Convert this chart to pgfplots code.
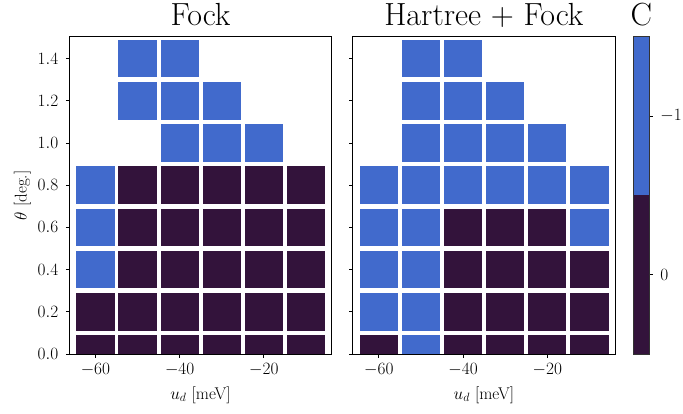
\documentclass[border=0pt]{standalone}
\usepackage{pgfplots}
\pgfplotsset{compat=1.18}

\definecolor{cblue}{RGB}{65,106,204}
\definecolor{cdark}{RGB}{51,19,59}

% one cell of the phase map (drawn size of a 10 meV x 0.2 deg tile)
\pgfdeclareplotmark{cell}{%
  \pgfpathrectangle{\pgfpoint{-19.15pt}{-18.85pt}}{\pgfpoint{38.3pt}{37.7pt}}%
  \pgfusepathqfill}

% Chern number C on the (u_d, theta) grid
\pgfplotstableread{
x y c
-60 0.0 0
-50 0.0 0
-40 0.0 0
-30 0.0 0
-20 0.0 0
-10 0.0 0
-60 0.2 0
-50 0.2 0
-40 0.2 0
-30 0.2 0
-20 0.2 0
-10 0.2 0
-60 0.4 -1
-50 0.4 0
-40 0.4 0
-30 0.4 0
-20 0.4 0
-10 0.4 0
-60 0.6 -1
-50 0.6 0
-40 0.6 0
-30 0.6 0
-20 0.6 0
-10 0.6 0
-60 0.8 -1
-50 0.8 0
-40 0.8 0
-30 0.8 0
-20 0.8 0
-10 0.8 0
-40 1.0 -1
-30 1.0 -1
-20 1.0 -1
-50 1.2 -1
-40 1.2 -1
-30 1.2 -1
-50 1.4 -1
-40 1.4 -1
}\fock

\pgfplotstableread{
x y c
-60 0.0 0
-50 0.0 -1
-40 0.0 0
-30 0.0 0
-20 0.0 0
-10 0.0 0
-60 0.2 -1
-50 0.2 -1
-40 0.2 0
-30 0.2 0
-20 0.2 0
-10 0.2 0
-60 0.4 -1
-50 0.4 -1
-40 0.4 0
-30 0.4 0
-20 0.4 0
-10 0.4 0
-60 0.6 -1
-50 0.6 -1
-40 0.6 0
-30 0.6 0
-20 0.6 0
-10 0.6 -1
-60 0.8 -1
-50 0.8 -1
-40 0.8 -1
-30 0.8 -1
-20 0.8 -1
-10 0.8 -1
-50 1.0 -1
-40 1.0 -1
-30 1.0 -1
-20 1.0 -1
-50 1.2 -1
-40 1.2 -1
-30 1.2 -1
-50 1.4 -1
-40 1.4 -1
}\hartreefock

\newcommand\labelfont{\fontsize{17}{20}\selectfont}
\newcommand\titlefont{\fontsize{32}{36}\selectfont}

\pgfplotsset{
  phase/.style={
    scale only axis,
    width=262.4pt, height=317.3pt,
    anchor=south west,
    xmin=-66.2, xmax=-3.9,
    ymin=0, ymax=1.504,
    xtick={-60,-40,-20},
    ytick={0,0.2,0.4,0.6,0.8,1.0,1.2,1.4},
    xtick pos=bottom, ytick pos=left,
    tick align=outside,
    major tick length=3.5pt,
    tick style={line width=0.8pt, black},
    axis line style={line width=0.8pt},
    tick label style={font=\labelfont},
    xticklabel style={yshift=-2pt},
    yticklabel style={xshift=-4pt,
      /pgf/number format/fixed,
      /pgf/number format/fixed zerofill,
      /pgf/number format/precision=1},
    title style={font=\titlefont, anchor=base, yshift=5.7pt},
    every axis x label/.style={at={(axis description cs:0.5,0)},
      anchor=base, yshift=-45pt, font=\labelfont},
    clip marker paths=true,
    axis on top,
  },
  blue cells/.style={only marks, mark=cell, color=cblue,
    restrict expr to domain={\thisrow{c}}{-1.5:-0.5}},
  dark cells/.style={only marks, mark=cell, color=cdark,
    restrict expr to domain={\thisrow{c}}{-0.5:0.5}},
}

\begin{document}
\begin{tikzpicture}[x=1pt, y=1pt]
\useasboundingbox (0,0) rectangle (683,413);

% Fock only
\begin{axis}[phase, at={(69.3pt,59pt)},
  title={Fock},
  xlabel={$u_d$ [meV]},
  ylabel={$\theta$ [deg.]},
  every axis y label/.style={at={(axis description cs:0,0.5)},
    xshift=-47pt, rotate=90, anchor=center, font=\labelfont},
]
\addplot[blue cells] table[x=x, y=y] {\fock};
\addplot[dark cells] table[x=x, y=y] {\fock};
\end{axis}

% Hartree + Fock
\begin{axis}[phase, at={(352.7pt,59pt)},
  title={Hartree + Fock},
  xlabel={$u_d$ [meV]},
  yticklabels={},
]
\addplot[blue cells] table[x=x, y=y] {\hartreefock};
\addplot[dark cells] table[x=x, y=y] {\hartreefock};
\end{axis}

% colour scale for C
\begin{axis}[
  scale only axis,
  width=16pt, height=317.3pt,
  anchor=south west, at={(633.3pt,59pt)},
  xmin=0, xmax=1, ymin=-1.5, ymax=0.5,
  y dir=reverse,
  xtick=\empty,
  ytick={-1,0},
  ytick pos=right, yticklabel pos=right,
  tick align=outside,
  major tick length=3.5pt,
  tick style={line width=0.8pt, black},
  axis line style={line width=0.8pt, black!80},
  tick label style={font=\labelfont},
  yticklabel style={xshift=4pt},
  title={C},
  title style={font=\titlefont, anchor=base, yshift=5.7pt},
  axis on top,
]
\addplot[fill=cblue, draw=none] coordinates {(0,-1.5) (1,-1.5) (1,-0.5) (0,-0.5)} -- cycle;
\addplot[fill=cdark, draw=none] coordinates {(0,-0.5) (1,-0.5) (1,0.5) (0,0.5)} -- cycle;
\end{axis}
\end{tikzpicture}
\end{document}
